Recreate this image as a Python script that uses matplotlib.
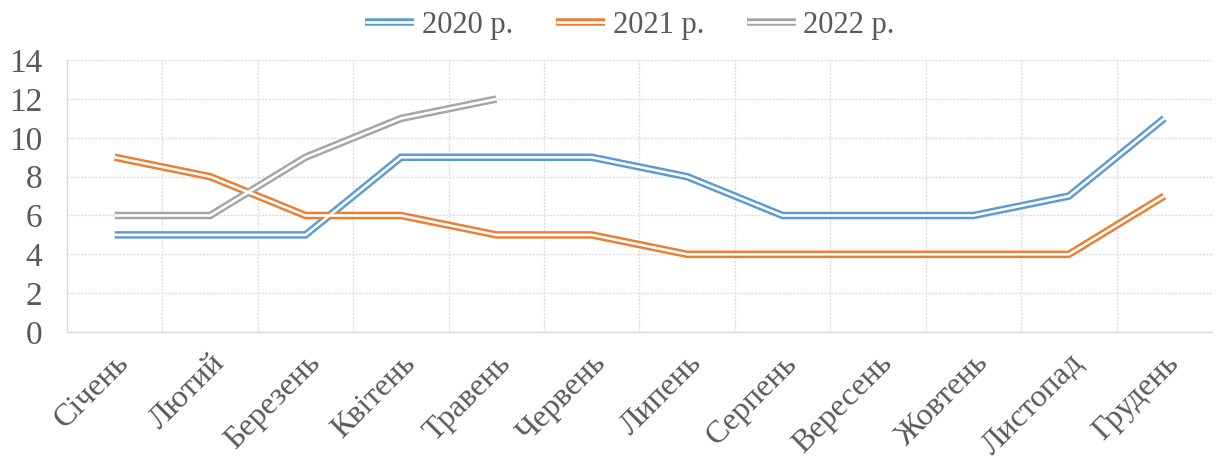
import matplotlib
matplotlib.use('Agg')
import matplotlib.pyplot as plt
from matplotlib.legend_handler import HandlerTuple

months = ['Січень', 'Лютий', 'Березень', 'Квітень', 'Травень', 'Червень',
          'Липень', 'Серпень', 'Вересень', 'Жовтень', 'Листопад', 'Грудень']
y2020 = [5, 5, 5, 9, 9, 9, 8, 6, 6, 6, 7, 11]
y2021 = [9, 8, 6, 6, 5, 5, 4, 4, 4, 4, 4, 7]
y2022 = [6, 6, 9, 11, 12]
labels = ['2020 р.', '2021 р.', '2022 р.']
colors = ['#5B9BD5', '#ED7D31', '#A5A5A5']

plt.rcParams['font.family'] = ['Liberation Serif', 'DejaVu Serif']
txt = '#595959'

fig = plt.figure(figsize=(12.21, 4.63), dpi=100)
ax = fig.add_axes([0.0549, 0.283, 0.9377, 0.587])

# Excel-style double line: thick colour stroke with a thin white stroke on top
handles = []
for vals, c in zip([y2020, y2021, y2022], colors):
    x = list(range(len(vals)))
    outer, = ax.plot(x, vals, color=c, lw=5.4, solid_joinstyle='miter',
                     solid_capstyle='butt', zorder=3)
    inner, = ax.plot(x, vals, color='white', lw=1.9, solid_joinstyle='miter',
                     solid_capstyle='butt', zorder=4)
    handles.append((outer, inner))

ax.set_xlim(-0.5, 11.5)
ax.set_ylim(0, 14)
ax.set_yticks(range(0, 15, 2))
ax.set_xticks(range(12))
ax.set_xticklabels(months, rotation=45, ha='right', rotation_mode='anchor',
                   fontsize=23, color=txt)
ax.set_xticks([i + 0.5 for i in range(11)], minor=True)
ax.tick_params(axis='y', labelsize=24, labelcolor=txt, length=0, pad=18)
ax.tick_params(axis='x', which='both', length=0, pad=12)

ax.grid(axis='y', color='#DCDCDC', ls=(0, (1.5, 1)), lw=1.0)
ax.grid(axis='x', which='minor', color='#DCDCDC', ls=(0, (1.5, 1)), lw=1.0)
for s in ['top', 'right']:
    ax.spines[s].set_visible(False)
for s in ['left', 'bottom']:
    ax.spines[s].set_color('#D9D9D9')
    ax.spines[s].set_linewidth(1.0)

fig.legend(handles, labels, handler_map={tuple: HandlerTuple(ndivide=1, pad=0)},
           loc='center', bbox_to_anchor=(0.516, 0.945), ncol=3, frameon=False,
           fontsize=22, labelcolor=txt, handlelength=1.6, columnspacing=1.4,
           handletextpad=0.25)

plt.savefig('out.png', dpi=100)
